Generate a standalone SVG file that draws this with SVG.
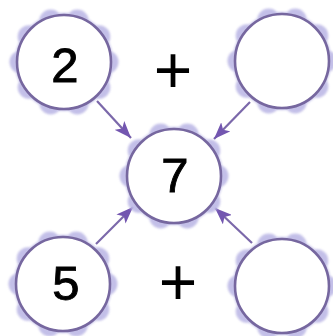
<svg xmlns="http://www.w3.org/2000/svg" xmlns:xlink="http://www.w3.org/1999/xlink" width="333" height="336" viewBox="0 0 333 336">
<style>
.ring{fill:#ffffff;stroke:#76679f;stroke-width:2.6}
.num{font-family:"Liberation Sans",Arial,sans-serif;font-size:49px;fill:#000;stroke:#000;stroke-width:0.9;text-anchor:middle}
.plus{font-family:"Liberation Sans",Arial,sans-serif;font-size:66px;fill:#000;text-anchor:middle}
.conn{stroke:#7b68aa;stroke-width:2.2;fill:none}
</style>
<defs>
<filter id="soft" x="-20%" y="-20%" width="140%" height="140%"><feGaussianBlur stdDeviation="1.2"/></filter>
<g id="petals" filter="url(#soft)" fill="#bdb9e6" opacity="0.9">
<circle cx="0" cy="0" r="49"/>
<circle cx="13.3" cy="-40.9" r="11.5"/><circle cx="34.8" cy="-25.3" r="11.5"/><circle cx="43" cy="0" r="11.5"/><circle cx="34.8" cy="25.3" r="11.5"/><circle cx="13.3" cy="40.9" r="11.5"/><circle cx="-13.3" cy="40.9" r="11.5"/><circle cx="-34.8" cy="25.3" r="11.5"/><circle cx="-43" cy="0" r="11.5"/><circle cx="-34.8" cy="-25.3" r="11.5"/><circle cx="-13.3" cy="-40.9" r="11.5"/>
</g>
<marker id="arr" markerWidth="18" markerHeight="13" refX="17" refY="6.5" orient="auto" markerUnits="userSpaceOnUse">
<path d="M0,0 L17,6.5 L0,13 L4,6.5 Z" fill="#7356b0"/>
</marker>
</defs>
<g id="connectors">
<line class="conn" x1="97" y1="101" x2="131" y2="138" marker-end="url(#arr)"/>
<line class="conn" x1="250" y1="102" x2="214" y2="139" marker-end="url(#arr)"/>
<line class="conn" x1="96" y1="244" x2="133" y2="207" marker-end="url(#arr)"/>
<line class="conn" x1="252" y1="243" x2="215" y2="208" marker-end="url(#arr)"/>
</g>
<g id="node-top-left">
<use xlink:href="#petals" x="64" y="62"/>
<circle class="ring" cx="64" cy="62" r="47"/>
<text class="num" x="65" y="82">2</text>
</g>
<g id="node-top-right">
<use xlink:href="#petals" x="282" y="61"/>
<circle class="ring" cx="282" cy="61" r="47"/>
</g>
<g id="node-center">
<use xlink:href="#petals" x="174" y="176"/>
<circle class="ring" cx="174" cy="176" r="47"/>
<text class="num" x="175" y="192">7</text>
</g>
<g id="node-bottom-left">
<use xlink:href="#petals" x="63" y="284"/>
<circle class="ring" cx="63" cy="284" r="47"/>
<text class="num" x="66" y="300">5</text>
</g>
<g id="node-bottom-right">
<use xlink:href="#petals" x="282" y="286"/>
<circle class="ring" cx="282" cy="286" r="47"/>
</g>
<text id="plus-top" class="plus" x="173" y="93">+</text>
<text id="plus-bottom" class="plus" x="178" y="305">+</text>
</svg>
